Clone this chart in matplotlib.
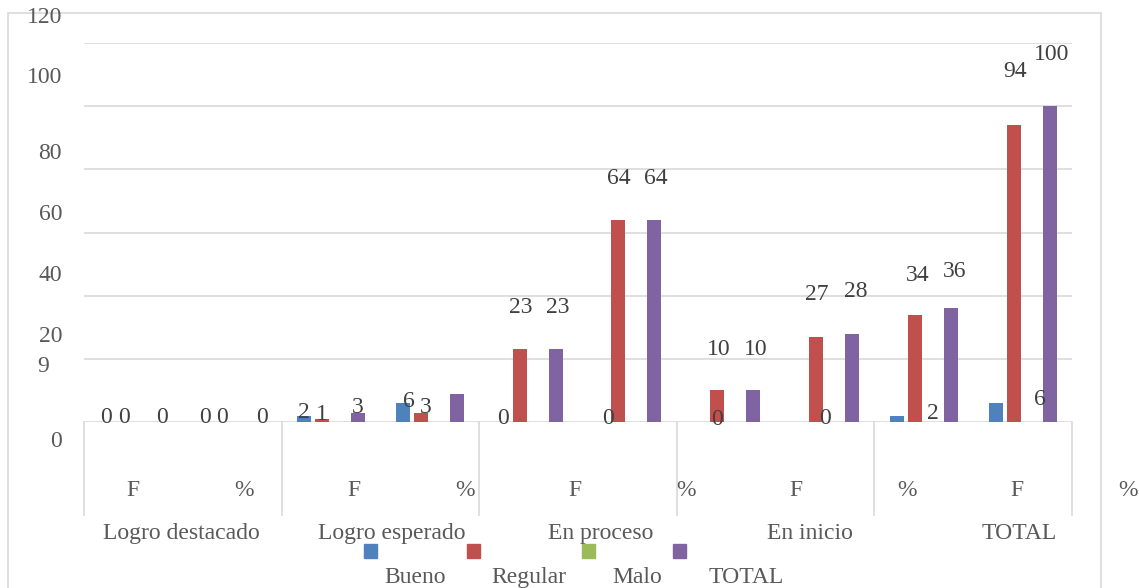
import numpy as np
import matplotlib.pyplot as plt
from matplotlib.patches import Rectangle

plt.rcParams['font.family'] = ['Liberation Serif', 'DejaVu Serif']

# Data
series = ["Bueno", "Regular", "Malo", "TOTAL"]
colors = ["#4F81BD", "#C0504D", "#9BBB59", "#8064A2"]
inner = ["F", "%", "F", "%", "F", "%", "F", "%", "F", "%"]
outer = ["Logro destacado", "Logro esperado", "En proceso", "En inicio", "TOTAL"]

bueno = [0, 0, 2, 6, 0, 0, 0, 0, 2, 6]
regular = [0, 0, 1, 3, 23, 64, 10, 27, 34, 94]
malo = [0, 0, 0, 0, 0, 0, 0, 0, 0, 0]
total = [0, 0, 3, 9, 23, 64, 10, 28, 36, 100]
values = [bueno, regular, malo, total]

# data labels as exported (group, slot offset, text, height)
labels = [
    (0, -1.5, "0", 2.2), (0, -0.5, "0", 2.2), (0, 1.6, "0", 2.2),
    (1, -1.5, "0", 2.2), (1, -0.55, "0", 2.2), (1, 1.65, "0", 2.2),
    (2, -1.5, "2", 3.6), (2, -0.5, "1", 3.2), (2, 1.5, "3", 5.4),
    (3, -1.15, "6", 7.3), (3, -0.25, "3", 5.4),
    (4, -1.4, "0", 1.9), (4, -0.45, "23", 37.0), (4, 1.6, "23", 37.0),
    (5, -1.1, "0", 1.9), (5, -0.45, "64", 77.8), (5, 1.6, "64", 77.8),
    (6, -0.5, "0", 1.6), (6, -0.4, "10", 23.8), (6, 1.65, "10", 23.8),
    (7, 0.0, "0", 1.7), (7, -0.45, "27", 41.2), (7, 1.7, "28", 42.0),
    (8, -0.35, "34", 47.2), (8, 1.7, "36", 48.4), (8, 0.5, "2", 3.3),
    (9, -0.4, "94", 111.7), (9, 1.6, "100", 117.2), (9, 0.95, "6", 8.0),
]

# y tick labels, placed where the export left them (pixels)
ytick_text = ["120", "100", "80", "60", "40", "20", "9", "0"]
ytick_pos = [(62, 15), (62, 75), (62, 151), (62, 212), (62, 273), (62, 334), (37, 364), (62, 439)]

W, H = 1139, 588
FS = 17
HALF_CAP = 7.8  # px from visual centre of digits/caps to baseline


def fx(x):
    return x / W


def fy(y):
    return 1 - y / H


fig = plt.figure(figsize=(11.39, 5.88), dpi=100)
ax = fig.add_axes([fx(84), fy(422), fx(1072) - fx(84), fy(43) - fy(422)])

px_per_unit = 379 / 120
slot = 18 / 98.7
bar_w = 14 / 98.7
x = np.arange(len(inner))
for s in range(4):
    ax.bar(x + (s - 1.5) * slot, values[s], width=bar_w, color=colors[s], zorder=3)

for g, sl, t, yv in labels:
    ax.text(g + sl * slot, yv - HALF_CAP / px_per_unit, t, ha="center", va="baseline",
            fontsize=FS, color="#404040", zorder=4)

ax.set_xlim(-0.5, 9.5)
ax.set_ylim(0, 120)
ax.set_yticks(range(0, 121, 20))
ax.set_xticks([])
ax.tick_params(axis="y", length=0, labelleft=False)
ax.yaxis.grid(True, color="#D9D9D9", lw=1.2)
ax.set_axisbelow(True)
for sp in ax.spines.values():
    sp.set_visible(False)

# category separators below the axis
for xs in np.arange(-0.5, 10, 2):
    ax.plot([xs, xs], [0, -93 / px_per_unit], color="#D9D9D9", lw=1.2, clip_on=False)

for i, t in enumerate(inner):
    ax.text(i * 1.118, -(66 + HALF_CAP) / px_per_unit, t, ha="center", va="baseline",
            fontsize=FS, color="#595959", clip_on=False)
for j, t in enumerate(outer):
    ax.text(0.49 + 2.12 * j, -(109 + HALF_CAP) / px_per_unit, t, ha="center", va="baseline",
            fontsize=FS, color="#595959", clip_on=False)

for t, (px, py) in zip(ytick_text, ytick_pos):
    fig.text(fx(px), fy(py + HALF_CAP), t, ha="right" if px > 50 else "left", va="baseline",
             fontsize=FS, color="#595959")

# legend, as laid out in the export (text nudged up a little so it fits)
leg_box = [364, 467, 582, 673]
leg_txt = [415, 529, 637, 746]
for s in range(4):
    fig.add_artist(Rectangle((fx(leg_box[s]), fy(558)), 13 / W, 14 / H,
                             transform=fig.transFigure, color=colors[s]))
    fig.text(fx(leg_txt[s]), fy(575 + HALF_CAP), series[s], ha="center", va="baseline",
             fontsize=FS, color="#595959")

# chart border
fig.add_artist(Rectangle((fx(8), fy(600)), fx(1101) - fx(8), fy(13) - fy(600),
                         transform=fig.transFigure, fill=False, edgecolor="#D9D9D9", lw=1.2))

plt.savefig("out.png", dpi=100)
plt.close()
